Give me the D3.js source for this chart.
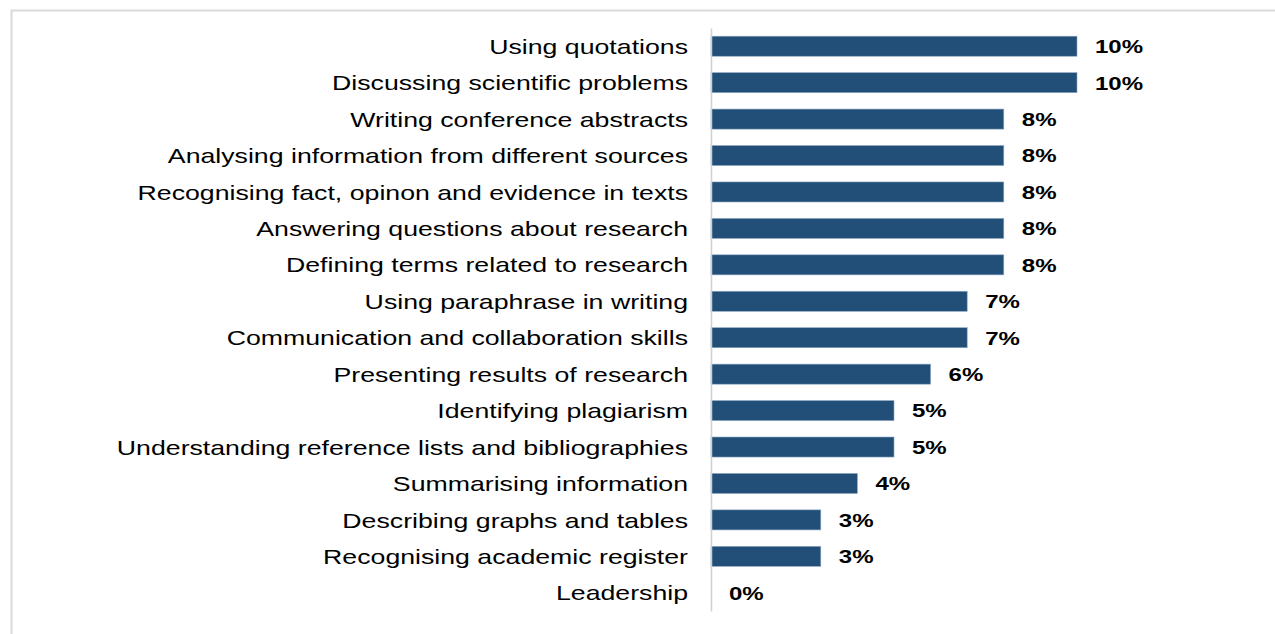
<!DOCTYPE html>
<html>
<head>
<meta charset="utf-8">
<script src="https://cdn.jsdelivr.net/npm/d3@7"></script>
<style>
  body { margin:0; background:#fff; }
  text { font-family: "Liberation Sans", Arial, sans-serif; }
</style>
</head>
<body>
<svg id="chart" width="1275" height="634"></svg>
<script>
const width = 1275, height = 634;

const skills = [
  'Using quotations',
  'Discussing scientific problems',
  'Writing conference abstracts',
  'Analysing information from different sources',
  'Recognising fact, opinon and evidence in texts',
  'Answering questions about research',
  'Defining terms related to research',
  'Using paraphrase in writing',
  'Communication and collaboration skills',
  'Presenting results of research',
  'Identifying plagiarism',
  'Understanding reference lists and bibliographies',
  'Summarising information',
  'Describing graphs and tables',
  'Recognising academic register',
  'Leadership'
];
const shares = [10, 10, 8, 8, 8, 8, 8, 7, 7, 6, 5, 5, 4, 3, 3, 0];

const fig = {
  margin: {top:28, right:20, bottom:23, left:711}
};
// the source picture is stretched sideways, so text gets a horizontal scale
const stretch = 1.335;
const data = skills.map((s, i) => ({skill: s, value: shares[i]}));

const svg = d3.select('#chart');

// outer frame
svg.append('rect')
  .attr('x', 11.5).attr('y', 10.5)
  .attr('width', 1300).attr('height', 700)
  .attr('fill', 'none')
  .attr('stroke', '#d9d9d9')
  .attr('stroke-width', 2);

var x = d3.scaleLinear()
  .domain([0, 10])
  .range([fig.margin.left, fig.margin.left + 366]);

var y = d3.scaleBand()
  .domain(skills)
  .range([fig.margin.top, height - fig.margin.bottom])
  .paddingInner(0.45)
  .paddingOuter(0.225);

// bars
svg.selectAll('.bar')
  .data(data)
  .join('rect')
    .attr('class', 'bar')
    .attr('x', x(0))
    .attr('y', d => y(d.skill))
    .attr('width', d => x(d.value) - x(0))
    .attr('height', y.bandwidth())
    .attr('fill', '#214f78')
    .attr('stroke', d => d.value > 0 ? '#8fa9c4' : 'none')
    .attr('stroke-width', 0.6);

// category axis
const yAxis = d3.axisLeft(y).tickSize(0).tickPadding(22);
const gy = svg.append('g')
  .attr('transform', 'translate(' + x(0) + ',0)')
  .call(yAxis);
gy.select('.domain').attr('stroke', '#d0d0d0').attr('stroke-width', 1.5);
gy.selectAll('text')
  .attr('x', 0)
  .attr('dy', '0.38em')
  .attr('transform', 'translate(-23,0) scale(' + stretch + ',1)')
  .attr('font-size', '20px')
  .attr('fill', '#000')
  .attr('font-family', '"Liberation Sans", Arial, sans-serif');

// value labels
svg.selectAll('.val')
  .data(data)
  .join('text')
    .attr('class', 'val')
    .attr('transform', d => 'translate(' + (x(d.value) + 18) + ',' + (y(d.skill) + y.bandwidth() / 2) + ') scale(' + stretch + ',1)')
    .attr('dy', '0.38em')
    .attr('font-size', '18px')
    .attr('font-weight', 'bold')
    .text(d => d.value + '%');
</script>
</body>
</html>
